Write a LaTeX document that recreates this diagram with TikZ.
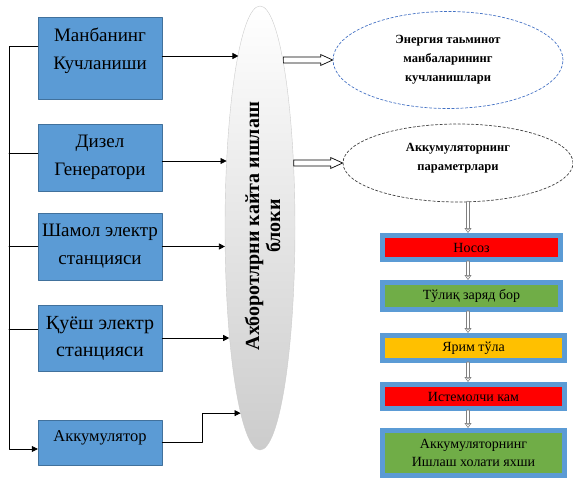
\documentclass[tikz,border=0pt]{standalone}
\usepackage{fontspec}
\setmainfont{Liberation Serif}
\usetikzlibrary{arrows.meta,shapes.geometric,calc}
\definecolor{boxblue}{HTML}{5B9BD5}
\definecolor{edgeblue}{HTML}{41719C}
\definecolor{dashblue}{HTML}{4472C4}
\definecolor{okgreen}{HTML}{70AD47}
\definecolor{halfyellow}{HTML}{FFC000}

\begin{document}
\begin{tikzpicture}[line cap=round,line join=round,x=1pt,y=-1pt,
  src/.style={rectangle,draw=edgeblue,fill=boxblue,minimum width=124pt,inner sep=0pt,align=center,font=\fontsize{19}{28}\selectfont},
  state/.style={rectangle,draw=boxblue,line width=5pt,line join=miter,inner sep=0pt,align=center,font=\fontsize{14}{18}\selectfont},
  cloud/.style={ellipse,dashed,dash pattern=on 2.5pt off 2pt,line width=0.7pt,minimum width=230pt,inner sep=0pt,align=center,font=\bfseries\fontsize{12.5}{19}\selectfont},
  conn/.style={-{Triangle[length=6pt,width=6pt]},line width=0.7pt},
  hollow/.style={line width=0.7pt,line join=miter,fill=white},
  down/.style={draw=gray,double,double distance=2pt,line width=0.6pt,-{Triangle[open,length=5pt,width=7pt]}}]

\useasboundingbox (0,0) rectangle (573,479);

% sources
\node[src,minimum height=82pt] (m1) at (100,58) {Манбанинг\\Кучланиши\\[-10pt]\mbox{}};
\node[src,minimum height=67pt] (m2) at (100,157.5) {Дизел\\Генератори};
\node[src,minimum height=67pt] (m3) at (100,246.5) {Шамол электр\\станцияси};
\node[src,minimum height=66pt,font=\fontsize{20}{27}\selectfont] (m4) at (100,338) {Қуёш электр\\станцияси};
\node[src,minimum height=45pt,font=\fontsize{16.5}{20}\selectfont] (akk) at (100,442.5) {Аккумулятор\\[-8pt]\mbox{}};
\coordinate (bus) at (9,0);

% processing block
\node[ellipse,draw=black!20,top color=white,bottom color=black!20,minimum width=70pt,minimum height=444pt,inner sep=0pt] (blk) at (260,228) {};
\node[rotate=90,align=center,font=\bfseries\fontsize{20}{21}\selectfont] (blktxt) at (262.5,226) {Ахборотлрни кайта ишлаш\\блоки};

% outputs
\node[cloud,draw=dashblue,minimum height=97pt] (en) at (448,60) {Энергия таьминот\\манбаларининг\\кучланишлари};
\node[cloud,draw=black!75,minimum height=78pt] (ap) at (458,163) {Аккумуляторнинг\\параметрлари\\[-6pt]\mbox{}};

\node[state,fill=red,minimum width=178pt,minimum height=24pt] (b1) at (471.5,247.5) {Носоз};
\node[state,fill=okgreen,minimum width=178pt,minimum height=27pt] (b2) at (471.5,296) {Тўлиқ заряд бор};
\node[state,fill=halfyellow,minimum width=182pt,minimum height=25pt] (b3) at (473.5,348) {Ярим тўла};
\node[state,fill=red,minimum width=182pt,minimum height=24pt] (b4) at (473.5,396.5) {Истемолчи кам};
\node[state,fill=okgreen,minimum width=182pt,minimum height=45pt] (b5) at (473.5,453) {Аккумуляторнинг\\Ишлаш холати яхши};
\coordinate (dx) at (468,0);

\draw[conn] ([yshift=12pt]m1.west) -- ([yshift=12pt]m1.west -| bus) |- ([yshift=-6.5pt]akk.west);
\draw[line width=0.7pt] ([yshift=4.5pt]m2.west) -- ([yshift=4.5pt]m2.west -| bus);
\draw[line width=0.7pt] (m3.west) -- (m3.west -| bus);
\draw[line width=0.7pt] ([yshift=9pt]m4.west) -- ([yshift=9pt]m4.west -| bus);

\draw[conn] ([yshift=2pt]m1.east) -- ([yshift=2pt]m1.east -| blk.97);
\draw[conn] ([yshift=-3.5pt]m2.east) -- ([yshift=-3.5pt]m2.east -| blk.116);
\draw[conn] (m3.east) -- (m3.east -| blk.209);
\draw[conn] (m4.east) -- (m4.east -| blk.254);
\draw[conn] (akk.east) -- ++(40,0) |- (blk.264);

% hollow arrows to the outputs
\coordinate (s1) at (en.west -| blk.82);
\coordinate (s2) at (ap.west -| blk.62);
\foreach \s/\t in {s1/en,s2/ap}
  \draw[hollow] ($(\s)+(0,-3)$) -- ($(\t.west)+(-12,-3)$) -- ($(\t.west)+(-12,-5.5)$) -- (\t.west)
    -- ($(\t.west)+(-12,5.5)$) -- ($(\t.west)+(-12,3)$) -- ($(\s)+(0,3)$) -- cycle;

\foreach \a/\b in {ap/b1,b1/b2,b2/b3,b3/b4,b4/b5}
  \draw[down] (dx |- \a.south) -- (dx |- \b.north);

\end{tikzpicture}
\end{document}
